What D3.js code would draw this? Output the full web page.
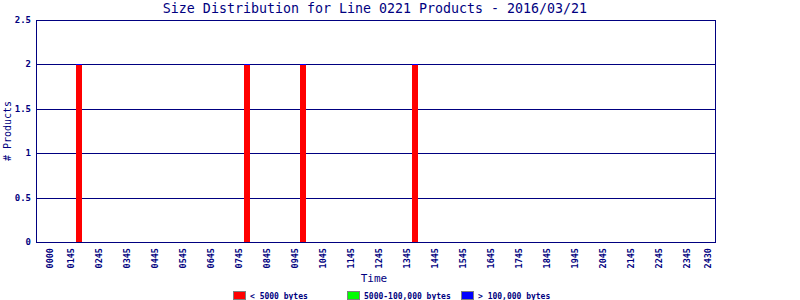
<!DOCTYPE html>
<html lang="en">
<head>
  <meta charset="UTF-8">
  <title>Size Distribution</title>
  <script src="https://d3js.org/d3.v7.min.js"></script>
  <style>
    body { margin: 0; background: #fff; }
    text { font-family: "DejaVu Sans Mono", "Liberation Mono", monospace; fill: #000080; }
  </style>
</head>
<body>
  <script>
    // Bars (hour of day) and product counts per size class
    const barHours = [2, 8, 10, 14];
    const smallCounts = [2, 2, 2, 2];
    const mediumCounts = [0, 0, 0, 0];
    const largeCounts = [0, 0, 0, 0];

    // x tick labels and where they sit (hours)
    const tickLabels = ["0000", "0145", "0245", "0345", "0445", "0545", "0645", "0745",
      "0845", "0945", "1045", "1145", "1245", "1345", "1445", "1545", "1645", "1745",
      "1845", "1945", "2045", "2145", "2245", "2345", "2430"];
    const tickHours = [1, 1.75, 2.75, 3.75, 4.75, 5.75, 6.75, 7.75, 8.75, 9.75, 10.75,
      11.75, 12.75, 13.75, 14.75, 15.75, 16.75, 17.75, 18.75, 19.75, 20.75, 21.75,
      22.75, 23.75, 24.5];
    const yTicks = [0, 0.5, 1, 1.5, 2, 2.5];

    const seriesNames = ["< 5000 bytes", "5000-100,000 bytes", "> 100,000 bytes"];
    const seriesColors = ["#ff0000", "#00ff00", "#0000ff"];

    const width = 800, height = 300;
    const plotL = 36, plotR = 715, plotT = 20, plotB = 242;
    const navy = "#000080";

    const svg = d3.select("body").append("svg")
      .attr("width", width)
      .attr("height", height);

    const x = d3.scaleLinear().domain([0.5, 24.75]).range([plotL, plotR]);
    const y = d3.scaleLinear().domain([0, 2.5]).range([plotB, plotT]);

    // title
    svg.append("text")
      .attr("x", 375).attr("y", 13)
      .attr("text-anchor", "middle")
      .attr("font-size", 13.3)
      .text("Size Distribution for Line 0221 Products - 2016/03/21");

    // gridlines
    svg.selectAll("line.grid")
      .data(yTicks.slice(1, -1))
      .enter().append("line")
      .attr("x1", plotL).attr("x2", plotR)
      .attr("y1", d => Math.round(y(d)) + 0.5).attr("y2", d => Math.round(y(d)) + 0.5)
      .attr("stroke", navy).attr("stroke-width", 1);

    // stacked bars
    const rows = barHours.map((h, i) => ({ h: h, vals: [smallCounts[i], mediumCounts[i], largeCounts[i]] }));
    const barW = 6;
    rows.forEach(r => {
      const bx = Math.round(x(r.h)) - 2;
      let base = 0;
      r.vals.forEach((v, k) => {
        if (v > 0) {
          svg.append("rect")
            .attr("x", bx)
            .attr("y", Math.round(y(base + v)) + 1)
            .attr("width", barW)
            .attr("height", Math.round(y(base)) - Math.round(y(base + v)) - 1)
            .attr("fill", seriesColors[k]);
        }
        base += v;
      });
      // thin cap of the top (empty) series
      svg.append("rect")
        .attr("x", bx)
        .attr("y", Math.round(y(base)))
        .attr("width", barW)
        .attr("height", 1)
        .attr("fill", seriesColors[2]);
    });

    // plot border
    svg.append("rect")
      .attr("x", plotL + 0.5).attr("y", plotT + 0.5)
      .attr("width", plotR - plotL).attr("height", plotB - plotT)
      .attr("fill", "none").attr("stroke", navy);

    // y axis labels
    svg.selectAll("text.ytick")
      .data(yTicks)
      .enter().append("text")
      .attr("x", 31).attr("y", d => y(d) + 3)
      .attr("text-anchor", "end")
      .attr("font-size", 9).attr("font-weight", "bold")
      .text(d => d3.format("")(d));

    // x axis labels (rotated)
    svg.selectAll("text.xtick")
      .data(tickLabels)
      .enter().append("text")
      .attr("transform", (d, i) => `translate(${x(tickHours[i]) + 3},248) rotate(-90)`)
      .attr("text-anchor", "end")
      .attr("font-size", 8.5).attr("font-weight", "bold")
      .text(d => d);

    // axis titles
    svg.append("text")
      .attr("x", 374).attr("y", 282)
      .attr("text-anchor", "middle")
      .attr("font-size", 11)
      .text("Time");

    svg.append("text")
      .attr("transform", "translate(11,131) rotate(-90)")
      .attr("text-anchor", "middle")
      .attr("font-size", 10)
      .text("# Products");

    // legend
    const legendX = [233, 347, 461];
    seriesNames.forEach((name, k) => {
      svg.append("rect")
        .attr("x", legendX[k] + 0.5).attr("y", 291.5)
        .attr("width", 12).attr("height", 8)
        .attr("fill", seriesColors[k])
        .attr("stroke", "#808080");
      svg.append("text")
        .attr("x", legendX[k] + 17).attr("y", 298.5)
        .attr("font-size", 8).attr("font-weight", "bold")
        .text(name);
    });
  </script>
</body>
</html>
